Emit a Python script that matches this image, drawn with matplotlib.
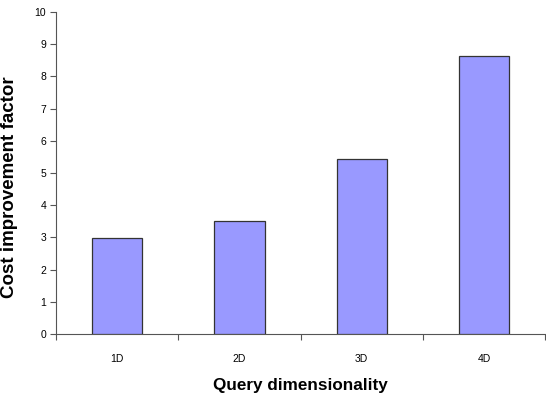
import matplotlib
matplotlib.use("Agg")
import matplotlib.pyplot as plt
import numpy as np

# data
dims = ["1D", "2D", "3D", "4D"]
factor = [2.98, 3.5, 5.43, 8.62]

plt.rcParams['font.family'] = ['Liberation Sans', 'DejaVu Sans']

fig = plt.figure(figsize=(5.46, 3.95), dpi=100)
ax = fig.add_axes([0.1026, 0.154, 0.896, 0.816])

x = np.arange(len(dims))
ax.bar(x, factor, width=0.41, color="#9999FF", edgecolor="#333333", linewidth=0.9, zorder=3)

ax.set_xlim(-0.5, len(dims) - 0.5)
ax.set_ylim(0, 10)
ax.set_yticks(range(0, 11))

# boundary ticks between categories, labels centered
ax.set_xticks(np.arange(-0.5, len(dims)), minor=False)
ax.set_xticklabels([])
ax.set_xticks(x, minor=True)
ax.set_xticklabels(dims, minor=True)
ax.tick_params(axis="x", which="minor", length=0, pad=14, labelsize=7.5)
ax.tick_params(axis="x", which="major", length=4, width=0.8, color="#555555")
ax.tick_params(axis="y", length=4, width=0.8, color="#555555", labelsize=7.5, pad=3)

for s in ["top", "right"]:
    ax.spines[s].set_visible(False)
for s in ["left", "bottom"]:
    ax.spines[s].set_color("#555555")
    ax.spines[s].set_linewidth(0.8)

ax.set_xlabel("Query dimensionality", fontsize=12.3, fontweight="bold", labelpad=10)
ax.set_ylabel("Cost improvement factor", fontsize=13.5, fontweight="bold")
ax.yaxis.set_label_coords(-0.078, 0.455)

fig.savefig("out.png", dpi=100)
